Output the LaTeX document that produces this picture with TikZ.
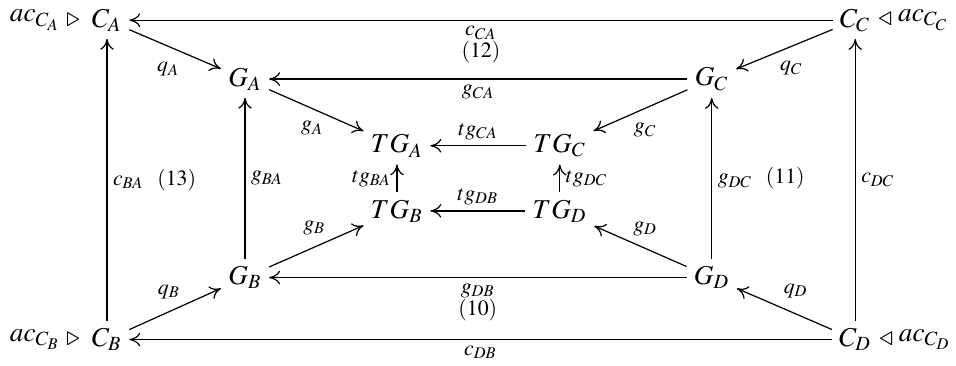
\documentclass[tikz,border=0pt]{standalone}
\usepackage{mathptmx}
\usetikzlibrary{arrows.meta, positioning}
\newcommand{\lrt}{\mathrel{\raisebox{-1.5pt}{$\triangleright$}}}
\newcommand{\llt}{\mathrel{\raisebox{-1.5pt}{$\triangleleft$}}}
\tikzset{
  every picture/.style={line width=0.45pt},
  obj/.style={inner sep=2.5pt},
  arr/.style={-{To[length=4pt, width=5pt]}},
  lbl/.style={font=\footnotesize, inner sep=2pt},
}

\begin{document}
\begin{tikzpicture}
  \useasboundingbox (0,0) rectangle (12.33,4.71);
  % objects of the cube
  \foreach \n/\x/\y/\t in {CA/1.38/4.45/C_A, CC/11.03/4.45/C_C, CB/1.38/0.33/C_B, CD/11.03/0.33/C_D,
                           GA/3.16/3.69/G_A, GC/9.18/3.69/G_C, GB/3.16/1.13/G_B, GD/9.18/1.13/G_D,
                           TA/5.12/2.83/TG_A, TC/7.22/2.83/TG_C, TB/5.12/1.99/TG_B, TD/7.22/1.99/TG_D}
    \node[obj] (\n) at (\x,\y) {$\t$};
  \node[obj, left=-1pt of CA] (acA) {$ac_{C_A}\lrt$};
  \node[obj, left=-1pt of CB] (acB) {$ac_{C_B}\lrt$};
  \node[obj, right=-2.5pt of CC] (acC) {$\llt ac_{C_C}$};
  \node[obj, right=-2.5pt of CD] (acD) {$\llt ac_{C_D}$};
  % outer square
  \draw[arr] (CC) -- node[lbl, below] (cCA) {$c_{CA}$} (CA);
  \node[lbl, below=-4pt of cCA] (n12) {$(12)$};
  \draw[arr] (CD) -- node[lbl, below] {$c_{DB}$} (CB);
  \draw[arr] (CB) -- node[lbl, right] {$c_{BA}$\hspace{5pt}$(13)$} (CA);
  \draw[arr] (CD) -- node[lbl, right] {$c_{DC}$} (CC);
  % middle square
  \draw[arr] (GC) -- node[lbl, below] {$g_{CA}$} (GA);
  \draw[arr] (GD) -- node[lbl, below] (gDB) {$g_{DB}$} (GB);
  \node[lbl, below=-4pt of gDB] (n10) {$(10)$};
  \draw[arr] (GB) -- node[lbl, right] {$g_{BA}$} (GA);
  \draw[arr] (GD) -- node[lbl, right] {$g_{DC}$\hspace{5pt}$(11)$} (GC);
  % inner square
  \draw[arr] (TC) -- node[lbl, above] {$tg_{CA}$} (TA);
  \draw[arr] (TD) -- node[lbl, above] {$tg_{DB}$} (TB);
  \draw[arr] (TB) -- node[lbl, left] {$tg_{BA}$} (TA);
  \draw[arr] (TD) -- node[lbl, right] {$tg_{DC}$} (TC);
  % diagonals
  \draw[arr] (CA) -- node[lbl, below=2.5pt, xshift=-2.5pt] {$q_A$} (GA);
  \draw[arr] (CC) -- node[lbl, below=2.2pt, xshift=2.6pt] {$q_C$} (GC);
  \draw[arr] (CB) -- node[lbl, above=1.6pt, xshift=-2.2pt] {$q_B$} (GB);
  \draw[arr] (CD) -- node[lbl, above=1.8pt, xshift=4.2pt] {$q_D$} (GD);
  \draw[arr] (GA) -- node[lbl, below=1.7pt, xshift=-1.5pt] {$g_A$} (TA);
  \draw[arr] (GC) -- node[lbl, below=2.5pt, xshift=1.8pt] {$g_C$} (TC);
  \draw[arr] (GB) -- node[lbl, above=2pt, xshift=-0.7pt] {$g_B$} (TB);
  \draw[arr] (GD) -- node[lbl, above=1.5pt, xshift=1.8pt] {$g_D$} (TD);
\end{tikzpicture}
\end{document}
